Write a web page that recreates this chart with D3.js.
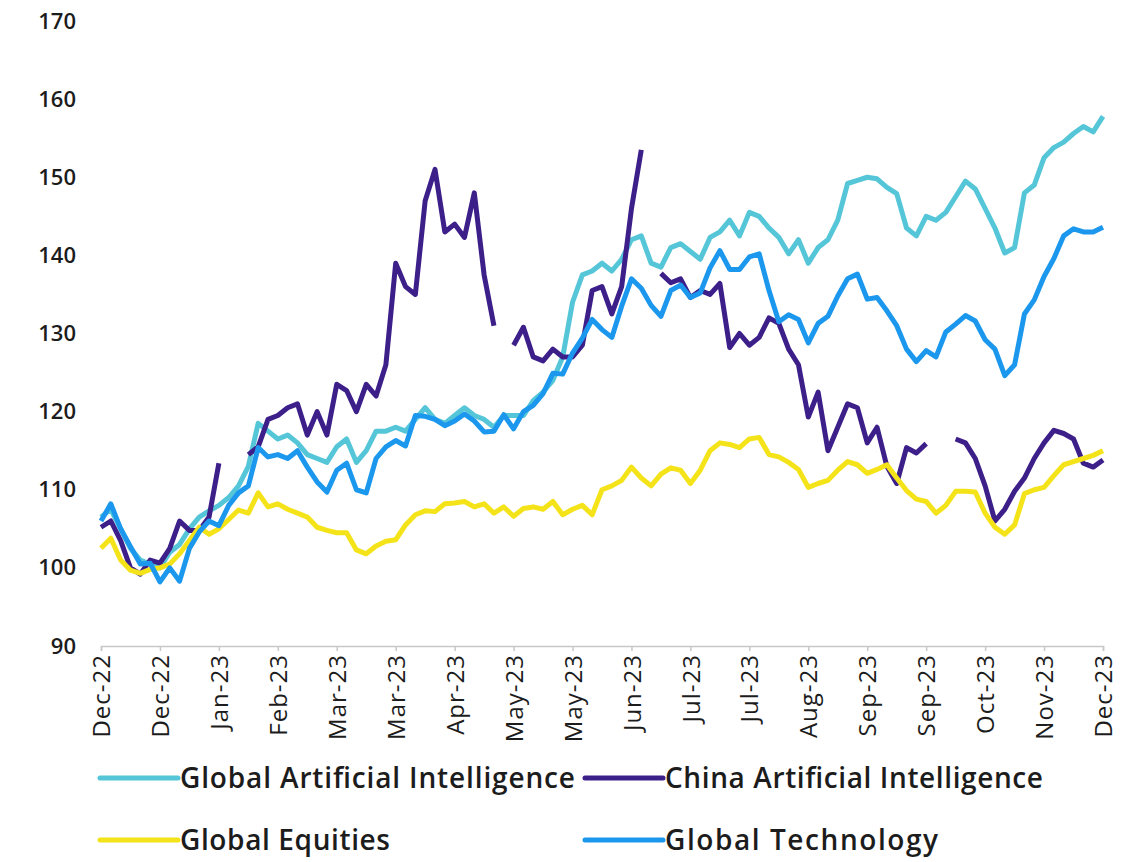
<!DOCTYPE html>
<html>
<head>
<meta charset="utf-8">
<script src="https://cdn.jsdelivr.net/npm/d3@7"></script>
<style>
  html, body { margin: 0; padding: 0; background: #ffffff; }
  svg { display: block; }
  text { font-family: "Open Sans", "Lato", sans-serif; fill: #1c1c1c; }
</style>
</head>
<body>
<svg id="chart" width="1130" height="862"></svg>
<script>
// Tick labels along the time axis (one every 6 observations)
const tickLabels = ["Dec-22", "Dec-22", "Jan-23", "Feb-23", "Mar-23", "Mar-23", "Apr-23", "May-23", "May-23",
  "Jun-23", "Jul-23", "Jul-23", "Aug-23", "Sep-23", "Sep-23", "Oct-23", "Nov-23", "Dec-23"];

const yTicks = [90, 100, 110, 120, 130, 140, 150, 160, 170];

// Rebased index levels (start = ~100); null = market closed
const globalAI = [106.5, 107.5, 105, 102.5, 101, 100.5, 100, 102, 103, 105, 106.5, 107.3, 108, 109, 110.5, 113,
  118.5, 117.5, 116.5, 117, 116, 114.5, 114, 113.5, 115.5, 116.5, 113.5, 115, 117.5, 117.5, 118, 117.5, 119, 120.5,
  119, 118.5, 119.5, 120.5, 119.5, 119, 118, 119.5, 119.5, 119.5, 121.4, 122.5, 124, 127, 134, 137.5, 138, 139, 138,
  139.5, 142, 142.5, 139, 138.5, 141, 141.5, 140.5, 139.5, 142.3, 143, 144.5, 142.5, 145.5, 145, 143.5, 142.3, 140.2,
  142, 139, 141, 142, 144.5, 149.2, 149.6, 150, 149.8, 148.7, 147.9, 143.5, 142.5, 145, 144.5, 145.5, 147.5, 149.5,
  148.5, 146, 143.5, 140.3, 141, 148, 149, 152.5, 153.8, 154.5, 155.6, 156.5, 155.8, 157.8];

const chinaAI = [105.2, 106, 103.5, 100, 99.2, 101, 100.6, 102.5, 106, 104.8, 104.8, 106.5, 113.4, null, null, 114.5,
  115.5, 119, 119.5, 120.5, 121, 117, 120, 117, 123.5, 122.7, 120, 123.5, 122, 126, 139, 136, 135, 147, 151, 143, 144,
  142.3, 148, 137.5, 131, null, 128.5, 130.8, 127, 126.5, 128, 127, 127, 128.5, 135.5, 136, 132.5, 136, 146, 153.5,
  null, 137.7, 136.5, 137, 134.6, 135.5, 135, 136.4, 128.2, 130, 128.5, 129.5, 132, 131.3, 128, 126, 119.3, 122.5,
  115, 118, 121, 120.5, 116, 118, 113, 110.8, 115.4, 114.7, 115.9, null, null, 116.5, 116, 114, 110.5, 106, 107.5,
  109.8, 111.5, 114, 116, 117.6, 117.2, 116.5, 113.4, 112.9, 113.8];

const globalEquities = [102.5, 103.8, 101, 99.7, 99.3, 99.8, 100, 100.5, 101.8, 103.5, 105.2, 104.3, 105, 106.2,
  107.4, 107, 109.6, 107.8, 108.2, 107.5, 107, 106.5, 105.2, 104.8, 104.5, 104.5, 102.3, 101.8, 102.8, 103.4, 103.6,
  105.5, 106.8, 107.3, 107.2, 108.2, 108.3, 108.5, 107.8, 108.2, 107, 107.8, 106.6, 107.6, 107.8, 107.5, 108.5, 106.8,
  107.5, 108, 106.8, 110, 110.5, 111.2, 112.9, 111.5, 110.5, 112, 112.8, 112.5, 110.8, 112.5, 115, 116, 115.8, 115.4,
  116.5, 116.7, 114.5, 114.2, 113.5, 112.6, 110.3, 110.8, 111.2, 112.5, 113.6, 113.2, 112.1, 112.6, 113.2, 111.5,
  109.9, 108.8, 108.5, 107, 108, 109.8, 109.8, 109.7, 107, 105.2, 104.3, 105.5, 109.5, 110, 110.3, 111.8, 113.2,
  113.6, 114, 114.4, 115];

const globalTech = [106, 108.2, 105, 102.7, 100.5, 100.6, 98.2, 100, 98.3, 102.5, 104.6, 106, 105.4, 108, 109.6,
  110.5, 115.4, 114.2, 114.5, 114, 115, 112.9, 111, 109.7, 112.5, 113.4, 110, 109.6, 114, 115.5, 116.3, 115.6, 119.5,
  119.4, 119, 118.2, 118.8, 119.7, 118.8, 117.4, 117.5, 119.6, 117.8, 120, 120.8, 122.3, 124.9, 124.8, 127.5, 129.4,
  131.8, 130.5, 129.5, 133.5, 137, 135.8, 133.6, 132.2, 135.5, 136.2, 134.6, 135.2, 138.4, 140.6, 138.2, 138.2, 139.8,
  140.2, 135.5, 131.5, 132.4, 131.8, 128.8, 131.3, 132.2, 134.8, 137, 137.6, 134.4, 134.6, 132.9, 131, 128, 126.4,
  127.8, 127, 130.2, 131.2, 132.3, 131.6, 129.2, 128, 124.6, 126, 132.5, 134.3, 137.3, 139.6, 142.5, 143.4, 143, 143,
  143.6];

const seriesNames = ["Global Artificial Intelligence", "China Artificial Intelligence", "Global Equities", "Global Technology"];
const seriesColors = ["#55c5d8", "#3d1f8a", "#f5e31a", "#1b98ee"];
const seriesValues = [globalAI, chinaAI, globalEquities, globalTech];

const svg = d3.select("#chart");
const n = globalAI.length;

const x = d3.scaleLinear().domain([0, n - 1]).range([101, 1103]);
const y = d3.scaleLinear().domain([90, 170]).range([646, 21]);

// Y axis: labels only
const yAxis = svg.append("g")
  .attr("transform", "translate(101,0)")
  .call(d3.axisLeft(y).tickValues(yTicks).tickSize(0).tickPadding(25).tickFormat(d3.format("d")));
yAxis.select(".domain").remove();
yAxis.selectAll("text")
  .style("font-family", "'Open Sans', sans-serif")
  .style("font-size", "22px")
  .style("font-weight", "600")
  .attr("fill", "#1c1c1c");

// X axis with rotated labels
const step = (n - 1) / (tickLabels.length - 1);
const xAxis = svg.append("g")
  .attr("transform", `translate(0,${y(90)})`)
  .call(d3.axisBottom(x)
    .tickValues(d3.range(tickLabels.length).map(i => i * step))
    .tickSize(5)
    .tickFormat((d, i) => tickLabels[i]));
xAxis.select(".domain").attr("stroke", "#c8c8c8").attr("stroke-width", 1.5);
xAxis.selectAll(".tick line").attr("stroke", "#c8c8c8").attr("stroke-width", 1.5);
xAxis.selectAll("text")
  .attr("transform", "rotate(-90)")
  .attr("x", -8)
  .attr("y", 0)
  .attr("dy", "0.36em")
  .attr("text-anchor", "end")
  .style("font-family", "'Open Sans', sans-serif")
  .style("font-size", "24px")
  .style("font-weight", "500")
  .style("letter-spacing", "1px")
  .attr("fill", "#1c1c1c");

// Series lines
const line = d3.line()
  .defined(d => d != null)
  .x((d, i) => x(i))
  .y(d => y(d));

svg.append("g").selectAll("path")
  .data(seriesValues)
  .join("path")
  .attr("d", d => line(d))
  .attr("fill", "none")
  .attr("stroke", (d, i) => seriesColors[i])
  .attr("stroke-width", 5)
  .attr("stroke-linejoin", "round")
  .attr("stroke-linecap", "butt");

// Legend: two rows of two entries
const legendPos = [[100, 778], [585, 778], [100, 840], [585, 840]];
const legendTextWidth = [395, 378, 210, 273];
const legend = svg.append("g").selectAll("g")
  .data(seriesNames)
  .join("g")
  .attr("transform", (d, i) => `translate(${legendPos[i][0]},${legendPos[i][1]})`);
legend.append("line")
  .attr("x1", 0).attr("x2", 78)
  .attr("y1", 0).attr("y2", 0)
  .attr("stroke", (d, i) => seriesColors[i])
  .attr("stroke-width", 5)
  .attr("stroke-linecap", "round");
legend.append("text")
  .attr("x", 80)
  .attr("y", 0)
  .attr("dy", "0.36em")
  .attr("textLength", (d, i) => legendTextWidth[i])
  .attr("lengthAdjust", "spacing")
  .style("font-size", "28px")
  .style("font-weight", "600")
  .text(d => d);
</script>
</body>
</html>
